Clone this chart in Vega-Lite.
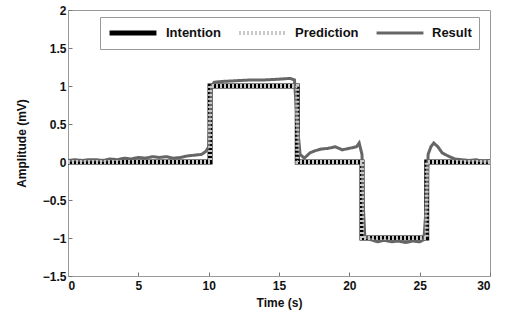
{
  "$schema": "https://vega.github.io/schema/vega-lite/v6.json",
  "width": 422,
  "height": 266,
  "autosize": "none",
  "padding": {"left": 68, "top": 10, "right": 21, "bottom": 44},
  "background": "white",
  "config": {
    "font": "Liberation Sans",
    "view": {"stroke": "#999", "strokeWidth": 1}
  },
  "data": {"values": [
    {"s": "Intention", "i": 0, "t": 0, "v": 0},
    {"s": "Intention", "i": 1, "t": 10.1, "v": 0},
    {"s": "Intention", "i": 2, "t": 10.1, "v": 1},
    {"s": "Intention", "i": 3, "t": 16.3, "v": 1},
    {"s": "Intention", "i": 4, "t": 16.3, "v": 0},
    {"s": "Intention", "i": 5, "t": 20.9, "v": 0},
    {"s": "Intention", "i": 6, "t": 20.9, "v": -1},
    {"s": "Intention", "i": 7, "t": 25.5, "v": -1},
    {"s": "Intention", "i": 8, "t": 25.5, "v": 0},
    {"s": "Intention", "i": 9, "t": 30, "v": 0},
    {"s": "Result", "i": 0, "t": 0, "v": 0.02},
    {"s": "Result", "i": 1, "t": 0.5, "v": 0.03},
    {"s": "Result", "i": 2, "t": 1, "v": 0.02},
    {"s": "Result", "i": 3, "t": 1.5, "v": 0.03},
    {"s": "Result", "i": 4, "t": 2, "v": 0.03},
    {"s": "Result", "i": 5, "t": 2.5, "v": 0.02},
    {"s": "Result", "i": 6, "t": 3, "v": 0.04},
    {"s": "Result", "i": 7, "t": 3.5, "v": 0.03},
    {"s": "Result", "i": 8, "t": 4, "v": 0.05},
    {"s": "Result", "i": 9, "t": 4.5, "v": 0.04},
    {"s": "Result", "i": 10, "t": 5, "v": 0.06},
    {"s": "Result", "i": 11, "t": 5.5, "v": 0.05},
    {"s": "Result", "i": 12, "t": 6, "v": 0.07},
    {"s": "Result", "i": 13, "t": 6.5, "v": 0.06},
    {"s": "Result", "i": 14, "t": 7, "v": 0.07},
    {"s": "Result", "i": 15, "t": 7.5, "v": 0.05},
    {"s": "Result", "i": 16, "t": 8, "v": 0.06},
    {"s": "Result", "i": 17, "t": 8.5, "v": 0.08},
    {"s": "Result", "i": 18, "t": 9, "v": 0.09},
    {"s": "Result", "i": 19, "t": 9.5, "v": 0.1},
    {"s": "Result", "i": 20, "t": 9.8, "v": 0.14},
    {"s": "Result", "i": 21, "t": 10, "v": 0.2},
    {"s": "Result", "i": 22, "t": 10.1, "v": 0.6},
    {"s": "Result", "i": 23, "t": 10.2, "v": 1.0},
    {"s": "Result", "i": 24, "t": 10.4, "v": 1.05},
    {"s": "Result", "i": 25, "t": 11, "v": 1.06},
    {"s": "Result", "i": 26, "t": 12, "v": 1.07},
    {"s": "Result", "i": 27, "t": 13, "v": 1.08},
    {"s": "Result", "i": 28, "t": 14, "v": 1.08},
    {"s": "Result", "i": 29, "t": 15, "v": 1.09},
    {"s": "Result", "i": 30, "t": 15.8, "v": 1.1},
    {"s": "Result", "i": 31, "t": 16.1, "v": 1.08},
    {"s": "Result", "i": 32, "t": 16.3, "v": 0.5},
    {"s": "Result", "i": 33, "t": 16.5, "v": 0.1},
    {"s": "Result", "i": 34, "t": 16.8, "v": 0.05},
    {"s": "Result", "i": 35, "t": 17.2, "v": 0.12},
    {"s": "Result", "i": 36, "t": 17.6, "v": 0.15},
    {"s": "Result", "i": 37, "t": 18, "v": 0.17},
    {"s": "Result", "i": 38, "t": 18.5, "v": 0.18},
    {"s": "Result", "i": 39, "t": 19, "v": 0.2},
    {"s": "Result", "i": 40, "t": 19.5, "v": 0.16},
    {"s": "Result", "i": 41, "t": 20, "v": 0.18},
    {"s": "Result", "i": 42, "t": 20.5, "v": 0.2},
    {"s": "Result", "i": 43, "t": 20.7, "v": 0.25},
    {"s": "Result", "i": 44, "t": 20.9, "v": 0.1},
    {"s": "Result", "i": 45, "t": 21.0, "v": -0.6},
    {"s": "Result", "i": 46, "t": 21.1, "v": -0.98},
    {"s": "Result", "i": 47, "t": 21.5, "v": -1.02},
    {"s": "Result", "i": 48, "t": 22, "v": -1.05},
    {"s": "Result", "i": 49, "t": 22.5, "v": -1.03},
    {"s": "Result", "i": 50, "t": 23, "v": -1.05},
    {"s": "Result", "i": 51, "t": 23.5, "v": -1.04},
    {"s": "Result", "i": 52, "t": 24, "v": -1.06},
    {"s": "Result", "i": 53, "t": 24.5, "v": -1.04},
    {"s": "Result", "i": 54, "t": 25, "v": -1.05},
    {"s": "Result", "i": 55, "t": 25.3, "v": -1.02},
    {"s": "Result", "i": 56, "t": 25.5, "v": -0.5},
    {"s": "Result", "i": 57, "t": 25.6, "v": 0.1},
    {"s": "Result", "i": 58, "t": 25.8, "v": 0.2},
    {"s": "Result", "i": 59, "t": 26, "v": 0.25},
    {"s": "Result", "i": 60, "t": 26.3, "v": 0.2},
    {"s": "Result", "i": 61, "t": 26.6, "v": 0.12},
    {"s": "Result", "i": 62, "t": 27, "v": 0.08},
    {"s": "Result", "i": 63, "t": 27.5, "v": 0.04},
    {"s": "Result", "i": 64, "t": 28, "v": 0.03},
    {"s": "Result", "i": 65, "t": 28.5, "v": 0.02},
    {"s": "Result", "i": 66, "t": 29, "v": 0.03},
    {"s": "Result", "i": 67, "t": 29.5, "v": 0.01},
    {"s": "Result", "i": 68, "t": 30, "v": 0.02},
    {"s": "Prediction", "i": 0, "t": 0, "v": 0},
    {"s": "Prediction", "i": 1, "t": 10.1, "v": 0},
    {"s": "Prediction", "i": 2, "t": 10.1, "v": 1},
    {"s": "Prediction", "i": 3, "t": 16.3, "v": 1},
    {"s": "Prediction", "i": 4, "t": 16.3, "v": 0},
    {"s": "Prediction", "i": 5, "t": 20.9, "v": 0},
    {"s": "Prediction", "i": 6, "t": 20.9, "v": -1},
    {"s": "Prediction", "i": 7, "t": 25.5, "v": -1},
    {"s": "Prediction", "i": 8, "t": 25.5, "v": 0},
    {"s": "Prediction", "i": 9, "t": 30, "v": 0}
  ]},
  "mark": {"type": "line", "clip": true},
  "encoding": {
    "x": {
      "field": "t", "type": "quantitative",
      "scale": {"domain": [0, 30], "nice": false},
      "axis": {"values": [0, 5, 10, 15, 20, 25, 30], "format": "~g", "title": "Time (s)", "grid": false,
        "labelFont": "Liberation Sans", "labelFontWeight": "bold", "labelFontSize": 12, "labelColor": "#111",
        "titleFont": "Liberation Sans", "titleFontWeight": "bold", "titleFontSize": 12, "titleColor": "#111",
        "tickSize": -4, "domainColor": "#999", "tickColor": "#777", "labelPadding": 8, "titlePadding": 6}
    },
    "y": {
      "field": "v", "type": "quantitative",
      "scale": {"domain": [-1.5, 2], "nice": false},
      "axis": {"values": [-1.5, -1, -0.5, 0, 0.5, 1, 1.5, 2], "format": "~g", "title": "Amplitude (mV)", "grid": false,
        "labelFont": "Liberation Sans", "labelFontWeight": "bold", "labelFontSize": 12, "labelColor": "#111",
        "titleFont": "Liberation Sans", "titleFontWeight": "bold", "titleFontSize": 12, "titleColor": "#111",
        "tickSize": -4, "domainColor": "#999", "tickColor": "#777", "labelPadding": 6, "titlePadding": 14}
    },
    "order": {"field": "i", "type": "quantitative"},
    "color": {
      "field": "s", "type": "nominal",
      "scale": {"domain": ["Intention", "Prediction", "Result"], "range": ["#000000", "#c8c8c8", "#666666"]},
      "legend": {
        "title": null, "orient": "none", "legendX": 32, "legendY": 7, "direction": "horizontal",
        "symbolType": "stroke", "symbolSize": 2200, "symbolStrokeWidth": 5, "clipHeight": 18,
        "labelFont": "Liberation Sans", "labelFontWeight": "bold", "labelFontSize": 13, "labelColor": "#111",
        "strokeColor": "#999", "fillColor": "white", "padding": 7, "columnPadding": 16, "labelOffset": 7
      }
    },
    "strokeWidth": {
      "field": "s", "type": "nominal",
      "scale": {"domain": ["Intention", "Prediction", "Result"], "range": [5, 3, 2]},
      "legend": null
    },
    "strokeDash": {
      "field": "s", "type": "nominal",
      "scale": {"domain": ["Intention", "Prediction", "Result"], "range": [[1, 0], [2, 2], [1, 0]]},
      "legend": null
    }
  }
}
